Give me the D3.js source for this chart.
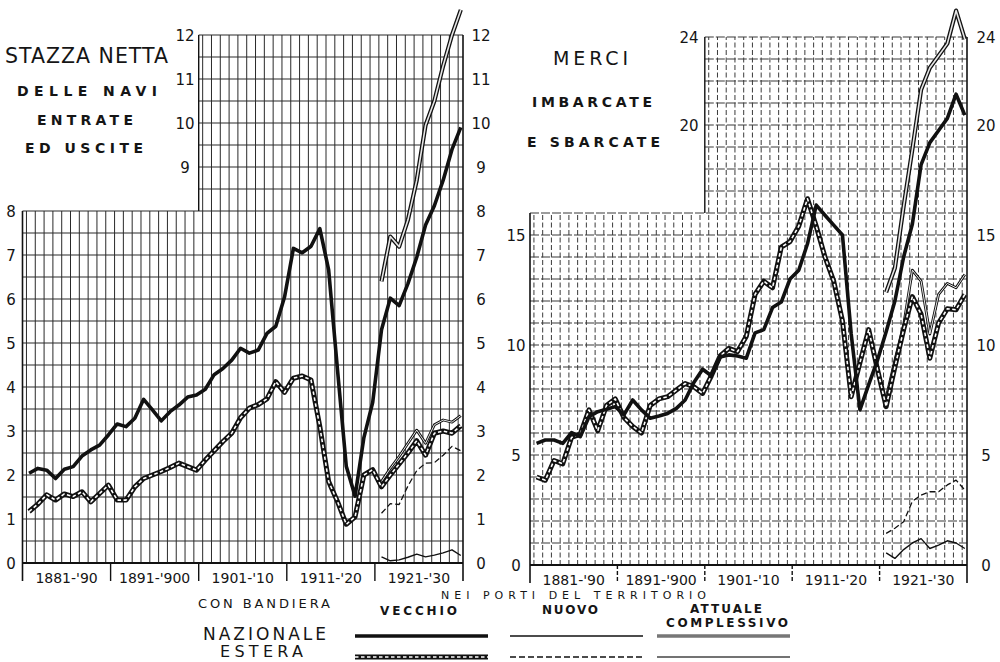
<!DOCTYPE html>
<html>
<head>
<meta charset="utf-8">
<script src="https://cdn.jsdelivr.net/npm/d3@7"></script>
<style>
  html, body { margin: 0; padding: 0; background: #fff; }
  svg { display: block; }
  text { font-family: "DejaVu Sans", sans-serif; fill: #151515; }
</style>
</head>
<body>
<svg id="chart" width="1000" height="662"></svg>
<script>
// ---- data -------------------------------------------------------------
const years = [1881,1882,1883,1884,1885,1886,1887,1888,1889,1890,
               1891,1892,1893,1894,1895,1896,1897,1898,1899,1900,
               1901,1902,1903,1904,1905,1906,1907,1908,1909,1910,
               1911,1912,1913,1914,1915,1916,1917,1918,1919,1920,
               1921,1922,1923,1924,1925,1926,1927,1928,1929,1930];
const yearsNew = [1921,1922,1923,1924,1925,1926,1927,1928,1929,1930];
const decadeLabels = ["1881-'90", "1891-'900", "1901-'10", "1911-'20", "1921-'30"];

// Stazza netta delle navi entrate ed uscite
const stazzaNazVecchio = [2.04,2.15,2.11,1.92,2.13,2.19,2.43,2.57,2.68,2.91,
                          3.16,3.10,3.29,3.72,3.48,3.23,3.44,3.59,3.77,3.82,
                          3.95,4.28,4.42,4.61,4.88,4.77,4.84,5.22,5.38,6.05,
                          7.15,7.05,7.20,7.60,6.66,4.40,2.20,1.52,2.85,3.65,
                          5.30,6.02,5.85,6.35,6.95,7.68,8.12,8.70,9.40,9.90];
const stazzaEstVecchio = [1.17,1.34,1.55,1.43,1.57,1.51,1.62,1.39,1.58,1.77,
                          1.43,1.43,1.73,1.92,2.00,2.08,2.17,2.27,2.19,2.11,
                          2.34,2.55,2.76,2.95,3.30,3.52,3.60,3.73,4.12,3.88,
                          4.20,4.25,4.16,3.10,1.85,1.40,0.88,1.05,2.00,2.12,
                          1.73,2.00,2.25,2.50,2.78,2.45,2.95,3.00,2.95,3.12];
const stazzaNazNuovo = [0.14,0.05,0.07,0.13,0.20,0.14,0.18,0.23,0.30,0.17];
const stazzaEstNuovo = [1.13,1.35,1.33,1.75,2.10,2.27,2.28,2.45,2.65,2.55];
const stazzaNazComplessivo = [6.40,7.42,7.19,7.80,8.70,9.95,10.50,11.30,12.00,12.57];
const stazzaEstComplessivo = [1.85,2.15,2.42,2.72,3.02,2.72,3.14,3.25,3.20,3.35];

// Merci imbarcate e sbarcate
const merciNazVecchio = [5.53,5.68,5.68,5.53,6.02,5.83,6.74,6.97,7.08,7.20,
                         6.82,7.50,7.05,6.67,6.77,6.89,7.12,7.50,8.30,8.90,
                         8.60,9.45,9.55,9.50,9.40,10.55,10.70,11.70,11.95,13.00,
                         13.40,14.60,16.36,15.90,15.45,15.00,10.50,7.05,8.20,9.30,
                         10.60,12.00,14.00,15.50,18.20,19.20,19.75,20.30,21.40,20.45];
const merciEstVecchio = [4.00,3.85,4.75,4.60,5.80,5.95,7.05,6.10,7.25,7.55,
                         6.70,6.30,6.00,7.25,7.55,7.65,7.95,8.25,8.10,7.80,
                         8.60,9.50,9.85,9.70,10.40,12.30,12.90,12.60,14.45,14.70,
                         15.40,16.65,15.40,14.00,12.90,11.10,7.65,9.20,10.70,8.90,
                         7.20,9.00,10.70,12.20,11.40,9.40,11.00,11.65,11.60,12.30];
const merciNazNuovo = [0.55,0.30,0.70,1.00,1.20,0.75,0.90,1.10,1.00,0.75];
const merciEstNuovo = [1.44,1.67,1.97,2.90,3.18,3.33,3.33,3.64,3.86,3.41];
const merciNazComplessivo = [12.40,13.50,16.30,18.90,21.60,22.60,23.15,23.70,25.20,23.90];
const merciEstComplessivo = [7.60,9.30,10.90,13.40,12.90,10.50,12.30,12.80,12.60,13.20];

// ---- drawing ----------------------------------------------------------
const svg = d3.select("#chart");
const pair = (xs, vs) => xs.map((yr, i) => ({ year: yr, v: vs[i] }));

// Line styles, keyed by series kind; layered strokes draw the double / dashed-double lines
const styles = {
  nazVecchio: [{ stroke: "#111", width: 3.6 }],
  estVecchio: [{ stroke: "#111", width: 5 }, { stroke: "#fff", width: 1.6, dash: "3.5,2.5" }],
  nazNuovo:   [{ stroke: "#111", width: 1.4 }],
  estNuovo:   [{ stroke: "#111", width: 1.3, dash: "6,3" }],
  nazComp:    [{ stroke: "#111", width: 4.2 }, { stroke: "#e6e6e6", width: 1.6 }],
  estComp:    [{ stroke: "#111", width: 2.8 }, { stroke: "#fff", width: 0.9 }]
};
const legendStyles = Object.assign({}, styles, {
  nazComp: [{ stroke: "#333", width: 3 }, { stroke: "#bbb", width: 1.2 }],
  estComp: [{ stroke: "#444", width: 1.6 }]
});

function drawStyled(g, pathD, kind, set) {
  (set || styles)[kind].forEach(s => {
    g.append("path")
      .attr("d", pathD)
      .attr("fill", "none")
      .attr("stroke", s.stroke)
      .attr("stroke-width", s.width)
      .attr("stroke-linejoin", "round")
      .attr("stroke-linecap", "butt")
      .attr("stroke-dasharray", s.dash || null);
  });
}

function drawPanel(cfg) {
  const g = svg.append("g");
  const x = d3.scaleLinear().domain([1880.25, 1930.25]).range([cfg.left, cfg.right]);
  const y = d3.scaleLinear().domain([0, cfg.top]).range([cfg.base, cfg.base - cfg.top * cfg.unit]);
  const splitX = x(1900.25);

  // grid
  const grid = g.append("g")
    .attr("stroke", cfg.gridColor)
    .attr("stroke-width", 1)
    .attr("fill", "none");
  const hVals = d3.range(0, cfg.top + 1e-6, cfg.hStep);
  hVals.forEach(v => {
    const x0 = v <= cfg.split + 1e-6 ? cfg.left : splitX;
    grid.append("line")
      .attr("x1", x0).attr("x2", cfg.right)
      .attr("y1", y(v)).attr("y2", y(v))
      .attr("stroke-width", cfg.hWidth)
      .attr("stroke-dasharray", cfg.hDash);
  });
  d3.range(1880.7, 1930, 1).forEach(t => {
    const yTop = t > 1900.25 ? y(cfg.top) : y(cfg.split);
    grid.append("line")
      .attr("x1", x(t)).attr("x2", x(t))
      .attr("y1", y(0)).attr("y2", yTop)
      .attr("stroke-dasharray", cfg.vDash);
  });

  // frame: side borders, step at 1901, baseline and decade separators
  const frame = g.append("g").attr("stroke", "#111").attr("fill", "none");
  frame.append("line").attr("x1", cfg.left).attr("x2", cfg.left)
    .attr("y1", y(cfg.split)).attr("y2", y(0) + 18).attr("stroke-width", 1.6);
  frame.append("line").attr("x1", cfg.right).attr("x2", cfg.right)
    .attr("y1", y(cfg.top)).attr("y2", y(0) + 18).attr("stroke-width", 1.6);
  frame.append("line").attr("x1", splitX).attr("x2", splitX)
    .attr("y1", y(cfg.top)).attr("y2", y(cfg.split)).attr("stroke-width", 1.4);
  frame.append("line").attr("x1", cfg.left).attr("x2", cfg.right)
    .attr("y1", y(0)).attr("y2", y(0)).attr("stroke-width", 1.8);
  [1890.25, 1900.25, 1910.25, 1920.25].forEach(t => {
    frame.append("line").attr("x1", x(t)).attr("x2", x(t))
      .attr("y1", y(0)).attr("y2", y(0) + 18).attr("stroke-width", 1.4)
      .attr("stroke-dasharray", cfg.sepDash);
  });

  // decade labels
  decadeLabels.forEach((lab, i) => {
    g.append("text")
      .attr("x", (x(1880.25 + 10 * i) + x(1890.25 + 10 * i)) / 2)
      .attr("y", y(0) + 20)
      .attr("text-anchor", "middle")
      .attr("font-size", 14)
      .text(lab);
  });

  // value labels
  cfg.leftTicks.forEach(v => {
    g.append("text").attr("x", v <= cfg.split ? cfg.leftLabelX : cfg.upperLabelX)
      .attr("y", y(v) + 5.5).attr("text-anchor", "middle")
      .attr("font-size", 15).text(v);
  });
  cfg.rightTicks.forEach(v => {
    g.append("text").attr("x", cfg.rightLabelX)
      .attr("y", y(v) + 5.5).attr("text-anchor", "middle")
      .attr("font-size", 15).text(v);
  });

  // series
  const line = d3.line().x(d => x(d.year)).y(d => y(d.v));
  cfg.series.forEach(s => drawStyled(g, line(s.data), s.kind));
}

drawPanel({
  left: 22.5, right: 463, base: 563, unit: 44, top: 12, split: 8, hStep: 0.5,
  gridColor: "#2a2a2a", hWidth: 1.1, hDash: null, vDash: null, sepDash: null,
  leftTicks: [0,1,2,3,4,5,6,7,8,9,10,11,12], rightTicks: [0,1,2,3,4,5,6,7,8,9,10,11,12],
  leftLabelX: 11, upperLabelX: 185, rightLabelX: 481,
  series: [
    { kind: "nazNuovo", data: pair(yearsNew, stazzaNazNuovo) },
    { kind: "estNuovo", data: pair(yearsNew, stazzaEstNuovo) },
    { kind: "estComp",  data: pair(yearsNew, stazzaEstComplessivo) },
    { kind: "estVecchio", data: pair(years, stazzaEstVecchio) },
    { kind: "nazVecchio", data: pair(years, stazzaNazVecchio) },
    { kind: "nazComp",  data: pair(yearsNew, stazzaNazComplessivo) }
  ]
});

drawPanel({
  left: 530, right: 967, base: 565, unit: 22, top: 24, split: 16, hStep: 1,
  gridColor: "#3a3a3a", hWidth: 1.1, hDash: "9,2", vDash: "5,2.5", sepDash: "4,2",
  leftTicks: [0,5,10,15,20,24], rightTicks: [0,5,10,15,20,24],
  leftLabelX: 516, upperLabelX: 689, rightLabelX: 986,
  series: [
    { kind: "nazNuovo", data: pair(yearsNew, merciNazNuovo) },
    { kind: "estNuovo", data: pair(yearsNew, merciEstNuovo) },
    { kind: "estComp",  data: pair(yearsNew, merciEstComplessivo) },
    { kind: "estVecchio", data: pair(years, merciEstVecchio) },
    { kind: "nazVecchio", data: pair(years, merciNazVecchio) },
    { kind: "nazComp",  data: pair(yearsNew, merciNazComplessivo) }
  ]
});

// ---- titles -----------------------------------------------------------
function label(txt, x0, x1, baseline, size, weight) {
  svg.append("text")
    .attr("x", x0).attr("y", baseline)
    .attr("font-size", size)
    .attr("font-weight", weight || "normal")
    .attr("textLength", x1 - x0)
    .attr("lengthAdjust", "spacing")
    .text(txt);
}
label("STAZZA NETTA", 5, 168, 63, 20.5);
label("DELLE NAVI", 17, 157, 96, 14, "bold");
label("ENTRATE", 37, 133, 125, 14, "bold");
label("ED USCITE", 25, 143, 153, 14, "bold");
label("MERCI", 553, 628, 65, 19);
label("IMBARCATE", 532, 652, 107, 14, "bold");
label("E SBARCATE", 527, 660, 147, 14, "bold");

// ---- legend -----------------------------------------------------------
label("NEI PORTI DEL TERRITORIO", 441, 706, 599, 11);
label("CON BANDIERA", 198, 330, 608, 13);
label("VECCHIO", 380, 457, 615, 12, "bold");
label("NUOVO", 542, 598, 614, 12, "bold");
label("ATTUALE", 690, 762, 613, 12, "bold");
label("COMPLESSIVO", 666, 788, 627, 12, "bold");
label("NAZIONALE", 203, 326, 640, 17);
label("ESTERA", 220, 303, 657, 16);

const legendRows = [
  { y: 636, kinds: ["nazVecchio", "nazNuovo", "nazComp"] },
  { y: 657, kinds: ["estVecchio", "estNuovo", "estComp"] }
];
const legendCols = [[355, 488], [510, 643], [657, 790]];
const legendLine = d3.line();
legendRows.forEach(row => {
  row.kinds.forEach((k, i) => {
    const [a, b] = legendCols[i];
    drawStyled(svg, legendLine([[a, row.y], [b, row.y]]), k, legendStyles);
  });
});
</script>
</body>
</html>
